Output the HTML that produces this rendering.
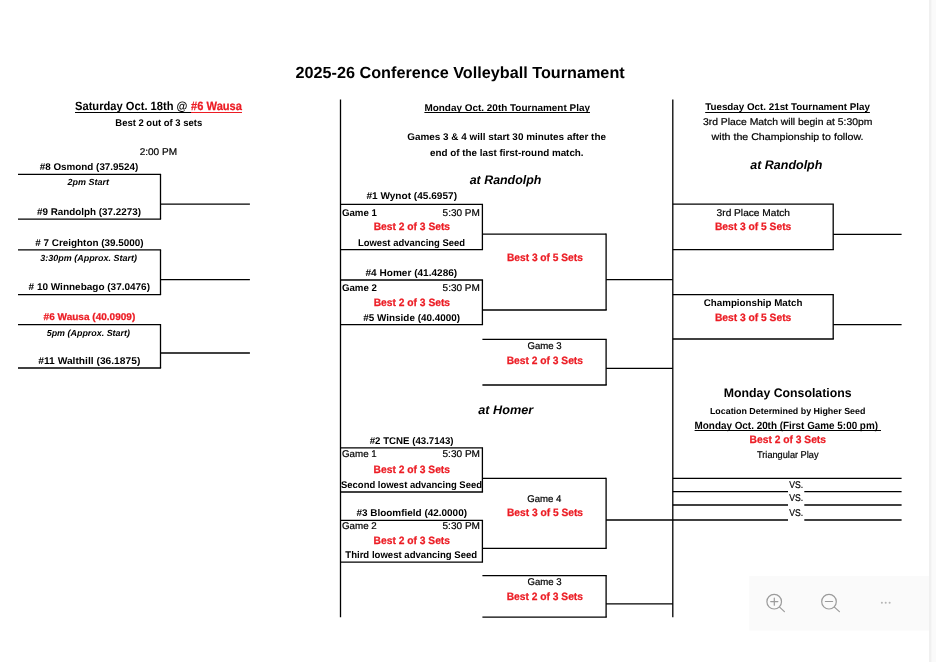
<!DOCTYPE html>
<html lang="en">
<head>
<meta charset="utf-8">
<title>2025-26 Conference Volleyball Tournament</title>
<style>
html,body{margin:0;padding:0;background:#fff;}
body{width:936px;height:662px;overflow:hidden;position:relative;font-family:"Liberation Sans",sans-serif;}
svg{position:absolute;left:0;top:0;display:block;will-change:transform;}
svg text{font-family:"Liberation Sans",sans-serif;text-rendering:geometricPrecision;}
</style>
</head>
<body>
<svg width="936" height="662" viewBox="0 0 936 662">
<rect x="0" y="0" width="936" height="662" fill="#ffffff"/>
<!-- right gutter -->
<rect x="929" y="0" width="7" height="662" fill="#fafafa"/>
<rect x="929" y="0" width="2.4" height="662" fill="#f0f0f0"/>
<!-- floating zoom toolbar -->
<rect x="749.2" y="576" width="179.8" height="54.5" fill="#fafafa"/>
<g fill="none" stroke="#9b9b9b" stroke-width="1.2" stroke-linecap="round">
<circle cx="774.2" cy="601.7" r="7.3"/>
<path d="M770.7 601.6H777.9M774.3 598V605.2M779.6 607.1L784.4 611.6"/>
<circle cx="829" cy="601.7" r="7.3"/>
<path d="M825.4 601.5H832.6M834.4 607.1L839.4 611.6"/>
</g>
<g fill="#b4b4b4">
<circle cx="881.9" cy="602.8" r="1"/><circle cx="885.7" cy="602.8" r="1"/><circle cx="889.6" cy="602.8" r="1"/>
</g>

<g stroke-linecap="butt">
<line x1="75.00" y1="112.50" x2="191.00" y2="112.50" stroke="#000" stroke-width="1.0"/>
<line x1="191.00" y1="112.50" x2="242.00" y2="112.50" stroke="#ec1c24" stroke-width="1.0"/>
<line x1="18.00" y1="174.40" x2="161.10" y2="174.40" stroke="#000" stroke-width="1.3"/>
<line x1="18.00" y1="219.20" x2="161.10" y2="219.20" stroke="#000" stroke-width="1.3"/>
<line x1="160.50" y1="174.40" x2="160.50" y2="219.20" stroke="#000" stroke-width="1.3"/>
<line x1="160.50" y1="204.20" x2="249.90" y2="204.20" stroke="#000" stroke-width="1.3"/>
<line x1="18.00" y1="249.90" x2="161.10" y2="249.90" stroke="#000" stroke-width="1.3"/>
<line x1="18.00" y1="294.70" x2="161.10" y2="294.70" stroke="#000" stroke-width="1.3"/>
<line x1="160.50" y1="249.90" x2="160.50" y2="294.70" stroke="#000" stroke-width="1.3"/>
<line x1="160.50" y1="279.70" x2="249.90" y2="279.70" stroke="#000" stroke-width="1.3"/>
<line x1="18.00" y1="324.70" x2="161.10" y2="324.70" stroke="#000" stroke-width="1.3"/>
<line x1="18.00" y1="368.00" x2="161.10" y2="368.00" stroke="#000" stroke-width="1.3"/>
<line x1="160.50" y1="324.70" x2="160.50" y2="368.00" stroke="#000" stroke-width="1.3"/>
<line x1="160.50" y1="353.00" x2="249.90" y2="353.00" stroke="#000" stroke-width="1.3"/>
<line x1="424.40" y1="112.50" x2="590.00" y2="112.50" stroke="#000" stroke-width="1.0"/>
<line x1="340.50" y1="99.40" x2="340.50" y2="617.20" stroke="#000" stroke-width="1.3"/>
<line x1="672.80" y1="99.40" x2="672.80" y2="617.20" stroke="#000" stroke-width="1.3"/>
<line x1="340.50" y1="204.40" x2="483.05" y2="204.40" stroke="#000" stroke-width="1.3"/>
<line x1="340.50" y1="249.60" x2="483.05" y2="249.60" stroke="#000" stroke-width="1.3"/>
<line x1="482.40" y1="204.40" x2="482.40" y2="249.60" stroke="#000" stroke-width="1.3"/>
<line x1="482.40" y1="234.20" x2="606.10" y2="234.20" stroke="#000" stroke-width="1.3"/>
<line x1="340.50" y1="280.00" x2="483.05" y2="280.00" stroke="#000" stroke-width="1.3"/>
<line x1="340.50" y1="324.70" x2="483.05" y2="324.70" stroke="#000" stroke-width="1.3"/>
<line x1="482.40" y1="280.00" x2="482.40" y2="324.70" stroke="#000" stroke-width="1.3"/>
<line x1="482.40" y1="310.00" x2="606.75" y2="310.00" stroke="#000" stroke-width="1.3"/>
<line x1="606.10" y1="233.55" x2="606.10" y2="310.00" stroke="#000" stroke-width="1.3"/>
<line x1="606.10" y1="279.70" x2="672.80" y2="279.70" stroke="#000" stroke-width="1.3"/>
<line x1="482.40" y1="339.40" x2="606.75" y2="339.40" stroke="#000" stroke-width="1.3"/>
<line x1="482.40" y1="385.00" x2="606.75" y2="385.00" stroke="#000" stroke-width="1.3"/>
<line x1="606.10" y1="339.40" x2="606.10" y2="385.00" stroke="#000" stroke-width="1.3"/>
<line x1="606.10" y1="368.30" x2="672.80" y2="368.30" stroke="#000" stroke-width="1.3"/>
<line x1="340.50" y1="447.80" x2="483.05" y2="447.80" stroke="#000" stroke-width="1.3"/>
<line x1="340.50" y1="492.00" x2="483.05" y2="492.00" stroke="#000" stroke-width="1.3"/>
<line x1="482.40" y1="447.80" x2="482.40" y2="492.00" stroke="#000" stroke-width="1.3"/>
<line x1="482.40" y1="478.30" x2="606.10" y2="478.30" stroke="#000" stroke-width="1.3"/>
<line x1="340.50" y1="520.30" x2="483.05" y2="520.30" stroke="#000" stroke-width="1.3"/>
<line x1="340.50" y1="562.10" x2="483.05" y2="562.10" stroke="#000" stroke-width="1.3"/>
<line x1="482.40" y1="520.30" x2="482.40" y2="562.10" stroke="#000" stroke-width="1.3"/>
<line x1="482.40" y1="548.30" x2="606.75" y2="548.30" stroke="#000" stroke-width="1.3"/>
<line x1="606.10" y1="477.65" x2="606.10" y2="548.30" stroke="#000" stroke-width="1.3"/>
<line x1="606.10" y1="520.00" x2="672.80" y2="520.00" stroke="#000" stroke-width="1.3"/>
<line x1="482.40" y1="575.60" x2="606.75" y2="575.60" stroke="#000" stroke-width="1.3"/>
<line x1="482.40" y1="617.20" x2="606.75" y2="617.20" stroke="#000" stroke-width="1.3"/>
<line x1="606.10" y1="575.60" x2="606.10" y2="617.20" stroke="#000" stroke-width="1.3"/>
<line x1="606.10" y1="603.90" x2="672.80" y2="603.90" stroke="#000" stroke-width="1.3"/>
<line x1="705.20" y1="112.50" x2="869.90" y2="112.50" stroke="#000" stroke-width="1.0"/>
<line x1="694.60" y1="430.50" x2="881.00" y2="430.50" stroke="#000" stroke-width="1.0"/>
<line x1="672.80" y1="204.20" x2="833.85" y2="204.20" stroke="#000" stroke-width="1.3"/>
<line x1="672.80" y1="249.70" x2="833.85" y2="249.70" stroke="#000" stroke-width="1.3"/>
<line x1="833.20" y1="204.20" x2="833.20" y2="249.70" stroke="#000" stroke-width="1.3"/>
<line x1="833.20" y1="234.40" x2="901.60" y2="234.40" stroke="#000" stroke-width="1.3"/>
<line x1="672.80" y1="294.70" x2="833.85" y2="294.70" stroke="#000" stroke-width="1.3"/>
<line x1="672.80" y1="339.00" x2="833.85" y2="339.00" stroke="#000" stroke-width="1.3"/>
<line x1="833.20" y1="294.70" x2="833.20" y2="339.00" stroke="#000" stroke-width="1.3"/>
<line x1="833.20" y1="324.70" x2="901.60" y2="324.70" stroke="#000" stroke-width="1.3"/>
<line x1="672.80" y1="478.30" x2="901.60" y2="478.30" stroke="#000" stroke-width="1.3"/>
<line x1="672.80" y1="491.70" x2="788.00" y2="491.70" stroke="#000" stroke-width="1.3"/>
<line x1="804.30" y1="491.70" x2="901.60" y2="491.70" stroke="#000" stroke-width="1.3"/>
<line x1="672.80" y1="505.00" x2="788.00" y2="505.00" stroke="#000" stroke-width="1.3"/>
<line x1="804.30" y1="505.00" x2="901.60" y2="505.00" stroke="#000" stroke-width="1.3"/>
<line x1="672.80" y1="520.00" x2="788.00" y2="520.00" stroke="#000" stroke-width="1.3"/>
<line x1="804.30" y1="520.00" x2="901.60" y2="520.00" stroke="#000" stroke-width="1.3"/>
</g>
<g>
<text x="75.0" y="110.4" font-size="12.0" textLength="112.5" lengthAdjust="spacingAndGlyphs" font-weight="bold">Saturday Oct. 18th @</text>
<text x="191.1" y="110.4" font-size="12.0" textLength="50.9" lengthAdjust="spacingAndGlyphs" font-weight="bold" fill="#ec1c24" stroke="#ec1c24" stroke-width="0.25">#6 Wausa</text>
<text x="115.3" y="125.6" font-size="9.75" textLength="86.9" lengthAdjust="spacingAndGlyphs" font-weight="bold">Best 2 out of 3 sets</text>
<text x="139.7" y="155.2" font-size="9.75" textLength="37.3" lengthAdjust="spacingAndGlyphs" stroke="#000" stroke-width="0.2">2:00 PM</text>
<text x="39.7" y="169.7" font-size="9.75" textLength="98.6" lengthAdjust="spacingAndGlyphs" font-weight="bold">#8 Osmond (37.9524)</text>
<text x="67.5" y="184.5" font-size="8.85" textLength="41.5" lengthAdjust="spacingAndGlyphs" font-weight="bold" font-style="italic">2pm Start</text>
<text x="37.0" y="215.0" font-size="9.75" textLength="104.0" lengthAdjust="spacingAndGlyphs" font-weight="bold">#9 Randolph (37.2273)</text>
<text x="35.3" y="245.8" font-size="9.75" textLength="108.3" lengthAdjust="spacingAndGlyphs" font-weight="bold"># 7 Creighton (39.5000)</text>
<text x="40.3" y="260.6" font-size="8.85" textLength="96.7" lengthAdjust="spacingAndGlyphs" font-weight="bold" font-style="italic">3:30pm (Approx. Start)</text>
<text x="28.6" y="290.3" font-size="9.75" textLength="121.4" lengthAdjust="spacingAndGlyphs" font-weight="bold"># 10 Winnebago (37.0476)</text>
<text x="43.6" y="320.4" font-size="9.75" textLength="91.7" lengthAdjust="spacingAndGlyphs" font-weight="bold" fill="#ec1c24" stroke="#ec1c24" stroke-width="0.25">#6 Wausa (40.0909)</text>
<text x="46.7" y="335.5" font-size="8.85" textLength="83.3" lengthAdjust="spacingAndGlyphs" font-weight="bold" font-style="italic">5pm (Approx. Start)</text>
<text x="38.3" y="364.0" font-size="9.75" textLength="102.0" lengthAdjust="spacingAndGlyphs" font-weight="bold">#11 Walthill (36.1875)</text>
<text x="295.5" y="78.3" font-size="16.1" textLength="329.2" lengthAdjust="spacingAndGlyphs" font-weight="bold">2025-26 Conference Volleyball Tournament</text>
<text x="424.4" y="110.5" font-size="9.75" textLength="165.6" lengthAdjust="spacingAndGlyphs" font-weight="bold">Monday Oct. 20th Tournament Play</text>
<text x="407.2" y="140.3" font-size="9.75" textLength="198.8" lengthAdjust="spacingAndGlyphs" font-weight="bold">Games 3 &amp; 4 will start 30 minutes after the</text>
<text x="430.0" y="155.5" font-size="9.75" textLength="153.6" lengthAdjust="spacingAndGlyphs" font-weight="bold">end of the last first-round match.</text>
<text x="469.7" y="184.2" font-size="12.4" textLength="71.7" lengthAdjust="spacingAndGlyphs" font-weight="bold" font-style="italic">at Randolph</text>
<text x="366.4" y="199.4" font-size="9.75" textLength="90.6" lengthAdjust="spacingAndGlyphs" font-weight="bold">#1 Wynot (45.6957)</text>
<text x="341.9" y="215.8" font-size="9.75" textLength="35.0" lengthAdjust="spacingAndGlyphs" font-weight="bold">Game 1</text>
<text x="442.6" y="215.8" font-size="9.75" textLength="37.3" lengthAdjust="spacingAndGlyphs" stroke="#000" stroke-width="0.2">5:30 PM</text>
<text x="373.7" y="230.3" font-size="10.6" textLength="76.4" lengthAdjust="spacingAndGlyphs" font-weight="bold" fill="#ec1c24" stroke="#ec1c24" stroke-width="0.25">Best 2 of 3 Sets</text>
<text x="358.0" y="245.5" font-size="9.75" textLength="107.0" lengthAdjust="spacingAndGlyphs" font-weight="bold">Lowest advancing Seed</text>
<text x="507.0" y="260.5" font-size="10.6" textLength="75.8" lengthAdjust="spacingAndGlyphs" font-weight="bold" fill="#ec1c24" stroke="#ec1c24" stroke-width="0.25">Best 3 of 5 Sets</text>
<text x="365.5" y="276.0" font-size="9.75" textLength="91.7" lengthAdjust="spacingAndGlyphs" font-weight="bold">#4 Homer (41.4286)</text>
<text x="341.9" y="290.5" font-size="9.75" textLength="35.0" lengthAdjust="spacingAndGlyphs" font-weight="bold">Game 2</text>
<text x="442.6" y="290.5" font-size="9.75" textLength="37.3" lengthAdjust="spacingAndGlyphs" stroke="#000" stroke-width="0.2">5:30 PM</text>
<text x="373.7" y="305.8" font-size="10.6" textLength="76.4" lengthAdjust="spacingAndGlyphs" font-weight="bold" fill="#ec1c24" stroke="#ec1c24" stroke-width="0.25">Best 2 of 3 Sets</text>
<text x="363.3" y="321.0" font-size="9.75" textLength="96.7" lengthAdjust="spacingAndGlyphs" font-weight="bold">#5 Winside (40.4000)</text>
<text x="527.5" y="349.2" font-size="9.75" textLength="34.2" lengthAdjust="spacingAndGlyphs" stroke="#000" stroke-width="0.2">Game 3</text>
<text x="506.7" y="363.9" font-size="10.6" textLength="76.3" lengthAdjust="spacingAndGlyphs" font-weight="bold" fill="#ec1c24" stroke="#ec1c24" stroke-width="0.25">Best 2 of 3 Sets</text>
<text x="478.3" y="413.9" font-size="12.4" textLength="55.0" lengthAdjust="spacingAndGlyphs" font-weight="bold" font-style="italic">at Homer</text>
<text x="369.7" y="443.6" font-size="9.75" textLength="83.9" lengthAdjust="spacingAndGlyphs" font-weight="bold">#2 TCNE (43.7143)</text>
<text x="342.0" y="457.0" font-size="9.75" textLength="34.7" lengthAdjust="spacingAndGlyphs" stroke="#000" stroke-width="0.2">Game 1</text>
<text x="442.5" y="457.0" font-size="9.75" textLength="37.5" lengthAdjust="spacingAndGlyphs" stroke="#000" stroke-width="0.2">5:30 PM</text>
<text x="373.6" y="473.0" font-size="10.6" textLength="76.4" lengthAdjust="spacingAndGlyphs" font-weight="bold" fill="#ec1c24" stroke="#ec1c24" stroke-width="0.25">Best 2 of 3 Sets</text>
<text x="341.0" y="487.6" font-size="9.75" textLength="141.0" lengthAdjust="spacingAndGlyphs" font-weight="bold">Second lowest advancing Seed</text>
<text x="527.2" y="502.0" font-size="9.75" textLength="34.2" lengthAdjust="spacingAndGlyphs" stroke="#000" stroke-width="0.2">Game 4</text>
<text x="507.0" y="515.8" font-size="10.6" textLength="76.0" lengthAdjust="spacingAndGlyphs" font-weight="bold" fill="#ec1c24" stroke="#ec1c24" stroke-width="0.25">Best 3 of 5 Sets</text>
<text x="356.4" y="516.0" font-size="9.75" textLength="110.6" lengthAdjust="spacingAndGlyphs" font-weight="bold">#3 Bloomfield (42.0000)</text>
<text x="342.0" y="529.4" font-size="9.75" textLength="34.7" lengthAdjust="spacingAndGlyphs" stroke="#000" stroke-width="0.2">Game 2</text>
<text x="442.5" y="529.4" font-size="9.75" textLength="37.5" lengthAdjust="spacingAndGlyphs" stroke="#000" stroke-width="0.2">5:30 PM</text>
<text x="373.6" y="543.9" font-size="10.6" textLength="76.4" lengthAdjust="spacingAndGlyphs" font-weight="bold" fill="#ec1c24" stroke="#ec1c24" stroke-width="0.25">Best 2 of 3 Sets</text>
<text x="345.3" y="557.5" font-size="9.75" textLength="131.9" lengthAdjust="spacingAndGlyphs" font-weight="bold">Third lowest advancing Seed</text>
<text x="527.5" y="585.3" font-size="9.75" textLength="34.2" lengthAdjust="spacingAndGlyphs" stroke="#000" stroke-width="0.2">Game 3</text>
<text x="506.7" y="599.7" font-size="10.6" textLength="76.3" lengthAdjust="spacingAndGlyphs" font-weight="bold" fill="#ec1c24" stroke="#ec1c24" stroke-width="0.25">Best 2 of 3 Sets</text>
<text x="705.2" y="110.3" font-size="9.75" textLength="164.7" lengthAdjust="spacingAndGlyphs" font-weight="bold">Tuesday Oct. 21st Tournament Play</text>
<text x="703.0" y="125.3" font-size="9.75" textLength="169.4" lengthAdjust="spacingAndGlyphs" stroke="#000" stroke-width="0.2">3rd Place Match will begin at 5:30pm</text>
<text x="711.6" y="140.3" font-size="9.75" textLength="151.9" lengthAdjust="spacingAndGlyphs" stroke="#000" stroke-width="0.2">with the Championship to follow.</text>
<text x="750.2" y="169.2" font-size="12.4" textLength="72.2" lengthAdjust="spacingAndGlyphs" font-weight="bold" font-style="italic">at Randolph</text>
<text x="716.6" y="215.6" font-size="9.75" textLength="73.4" lengthAdjust="spacingAndGlyphs" stroke="#000" stroke-width="0.2">3rd Place Match</text>
<text x="714.9" y="229.7" font-size="10.6" textLength="76.4" lengthAdjust="spacingAndGlyphs" font-weight="bold" fill="#ec1c24" stroke="#ec1c24" stroke-width="0.25">Best 3 of 5 Sets</text>
<text x="703.8" y="306.2" font-size="9.75" textLength="98.6" lengthAdjust="spacingAndGlyphs" font-weight="bold">Championship Match</text>
<text x="714.9" y="320.6" font-size="10.6" textLength="76.4" lengthAdjust="spacingAndGlyphs" font-weight="bold" fill="#ec1c24" stroke="#ec1c24" stroke-width="0.25">Best 3 of 5 Sets</text>
<text x="723.8" y="397.4" font-size="12.4" textLength="127.8" lengthAdjust="spacingAndGlyphs" font-weight="bold">Monday Consolations</text>
<text x="709.9" y="413.9" font-size="8.85" textLength="155.5" lengthAdjust="spacingAndGlyphs" font-weight="bold">Location Determined by Higher Seed</text>
<text x="694.6" y="428.6" font-size="10.5" textLength="183.4" lengthAdjust="spacingAndGlyphs" font-weight="bold">Monday Oct. 20th (First Game 5:00 pm)</text>
<text x="749.6" y="443.3" font-size="10.6" textLength="76.4" lengthAdjust="spacingAndGlyphs" font-weight="bold" fill="#ec1c24" stroke="#ec1c24" stroke-width="0.25">Best 2 of 3 Sets</text>
<text x="757.0" y="457.5" font-size="9.75" textLength="61.5" lengthAdjust="spacingAndGlyphs" stroke="#000" stroke-width="0.2">Triangular Play</text>
<text x="789.3" y="487.5" font-size="9.75" textLength="13.9" lengthAdjust="spacingAndGlyphs" stroke="#000" stroke-width="0.2">VS.</text>
<text x="789.3" y="501.0" font-size="9.75" textLength="13.9" lengthAdjust="spacingAndGlyphs" stroke="#000" stroke-width="0.2">VS.</text>
<text x="789.3" y="515.6" font-size="9.75" textLength="13.9" lengthAdjust="spacingAndGlyphs" stroke="#000" stroke-width="0.2">VS.</text>
</g>
</svg>
</body>
</html>
